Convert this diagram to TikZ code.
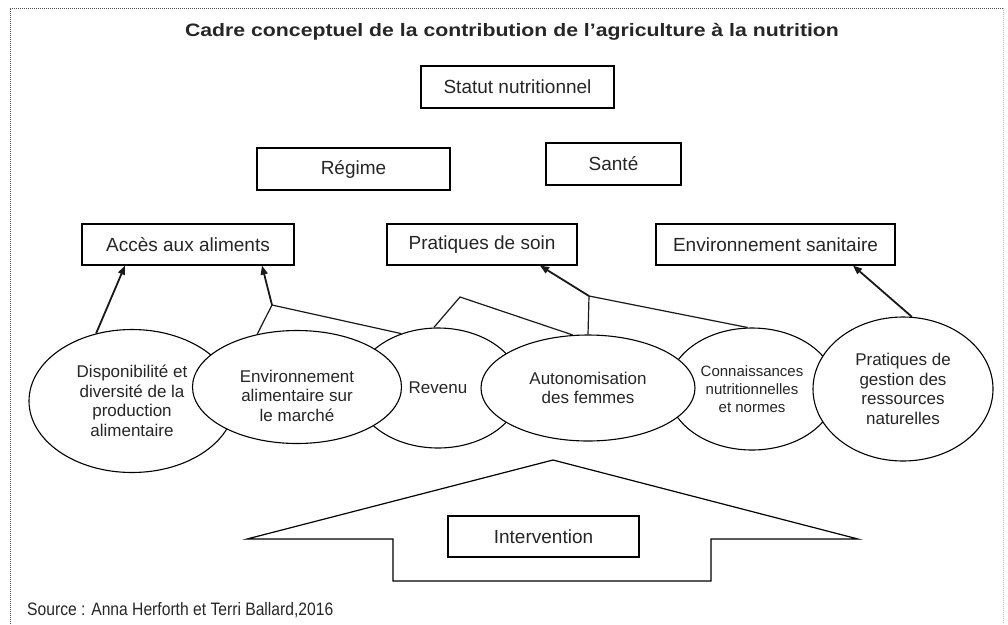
\documentclass[tikz,border=0pt]{standalone}
\usepackage{graphicx}
\usepackage{fontspec}
\setmainfont{Liberation Sans}
\usetikzlibrary{shapes.geometric,arrows.meta}

\begin{document}
\begin{tikzpicture}[x=1pt, y=-1pt,
    boite/.style={rectangle, draw=black, line width=1.2pt, fill=white, inner sep=0pt, text=black!85, font=\fontsize{19}{22}\selectfont},
    bulle/.style={ellipse, draw=black, line width=1.1pt, fill=white, inner sep=0pt, align=center, text=black!85, font=\fontsize{17}{19.5}\selectfont},
    fleche/.style={-{Triangle[length=9pt,width=7pt]}, line width=1.8pt, black!90},
    lien/.style={line width=1.2pt, black!90}]
    \useasboundingbox (0,0) rectangle (1008,624);

    % cadre pointille
    \draw[densely dotted, black!70, line width=1pt] (10,624) -- (10,8) -- (1003,8);
    \draw[densely dotted, black!25, line width=1pt] (1003,8) -- (1003,624);

    % titre
    \node[text=black!85] (titre) at (512,32) {\scalebox{1.18}[1]{\bfseries\fontsize{18}{20}\selectfont Cadre conceptuel de la contribution de l’agriculture à la nutrition}};

    % niveaux superieurs
    \node[boite, minimum width=193pt, minimum height=42pt] (statut) at (517.5,87) {Statut nutritionnel};
    \node[boite, minimum width=193pt, minimum height=42pt] (regime) at (353.5,169) {Régime};
    \node[boite, minimum width=135pt, minimum height=42pt] (sante) at (613.5,164) {Santé};

    % determinants
    \node[boite, minimum width=212pt, minimum height=41pt] (acces) at (188,244.5) {Accès aux aliments};
    \node[boite, minimum width=190pt, minimum height=41pt] (soin) at (482,244.5) {Pratiques de soin};
    \node[boite, minimum width=239pt, minimum height=41pt] (sanitaire) at (775.5,244.5) {Environnement sanitaire};

    % voies agricoles (celles de derriere d'abord)
    \node[bulle, minimum width=206pt, minimum height=143pt] (dispo) at (132,401) {Disponibilité et\\diversité de la\\production\\alimentaire};
    \node[bulle, minimum width=166pt, minimum height=120pt] (revenu) at (438,388) {Revenu};
    \node[bulle, minimum width=168pt, minimum height=122pt, font=\fontsize{15}{18.3}\selectfont] (connais) at (752,389) {Connaissances\\nutritionnelles\\et normes};
    \node[bulle, minimum width=209pt, minimum height=113pt] (marche) at (297,387) {\rule{0pt}{30pt}Environnement\\alimentaire sur\\le marché};
    \node[bulle, minimum width=214pt, minimum height=106pt] (femmes) at (588,388) {Autonomisation\\des femmes};
    \node[bulle, minimum width=180pt, minimum height=144pt] (gestion) at (903,389) {Pratiques de\\gestion des\\ressources\\naturelles};

    % points de jonction
    \coordinate (noeud-marche) at (272,305);
    \coordinate (noeud-revenu) at (460,297);
    \coordinate (noeud-soin) at (589,296);

    % liens vers les determinants
    \draw[fleche] (dispo.118) -- ([xshift=-63pt]acces.south);
    \draw[lien] (marche.127) -- (noeud-marche);
    \draw[fleche] (noeud-marche) -- ([xshift=74pt]acces.south);
    \draw[lien] (noeud-marche) -- (revenu.124);
    \draw[lien] (revenu.94) -- (noeud-revenu) -- (femmes.106);
    \draw[lien] (femmes.north) -- (noeud-soin);
    \draw[fleche] (noeud-soin) -- ([xshift=58pt]soin.south);
    \draw[lien] (noeud-soin) -- (connais.94);
    \draw[fleche] (gestion.83) -- ([xshift=77.5pt]sanitaire.south);

    % grande fleche d'intervention
    \draw[line width=1.2pt, fill=white] (247,539) -- (553,460) -- (858,539) -- (711,539) -- (711,581) -- (393,581) -- (393,539) -- cycle;
    \node[boite, minimum width=191pt, minimum height=41pt] (intervention) at (543.5,536.5) {Intervention};

    % source
    \node[anchor=west, inner sep=0pt, text=black!85] (source) at (27,610) {\scalebox{0.87}[1]{\fontsize{18}{20}\selectfont Source : Anna Herforth et Terri Ballard,2016}};
\end{tikzpicture}
\end{document}
